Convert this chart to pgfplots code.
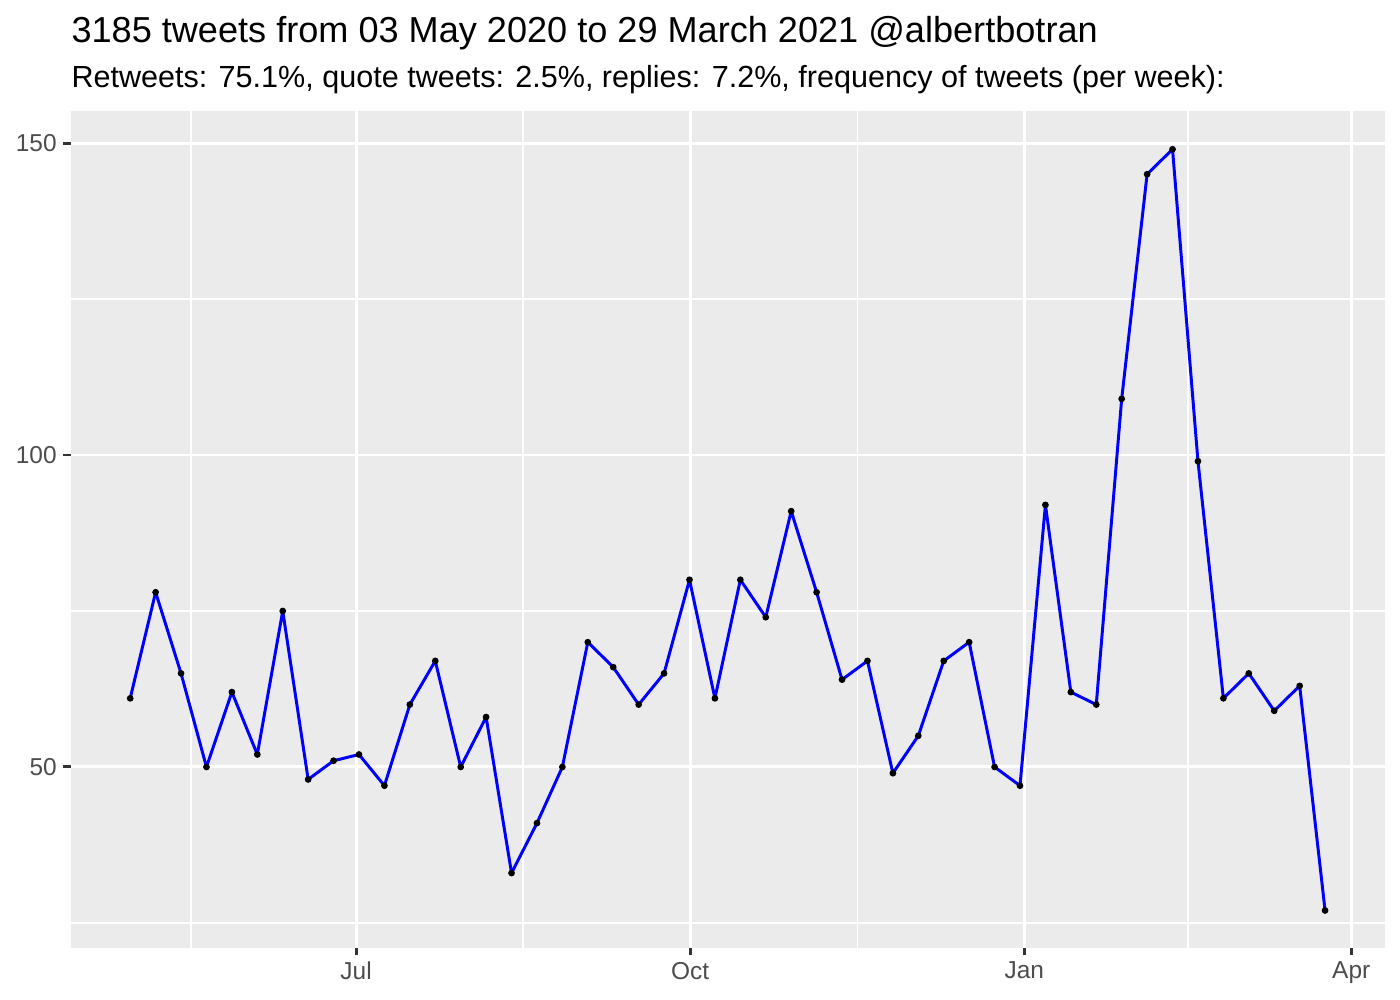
\documentclass[border=0pt]{standalone}
\usepackage{fontspec}
\setmainfont{Liberation Sans}
\usepackage{pgfplots}
\usepackage{pgfplotstable}
\pgfplotsset{compat=1.18}
\definecolor{panelbg}{HTML}{EBEBEB}
\definecolor{gray30}{HTML}{4D4D4D}
\definecolor{gray20}{HTML}{333333}
\pgfplotstableread{
x n
-62.2 61
-55.2 78
-48.2 65
-41.2 50
-34.2 62
-27.2 52
-20.2 75
-13.2 48
-6.2 51
0.8 52
7.8 47
14.8 60
21.8 67
28.8 50
35.8 58
42.8 33
49.8 41
56.8 50
63.8 70
70.8 66
77.8 60
84.8 65
91.8 80
98.8 61
105.8 80
112.8 74
119.8 91
126.8 78
133.8 64
140.8 67
147.8 49
154.8 55
161.8 67
168.8 70
175.8 50
182.8 47
189.8 92
196.8 62
203.8 60
210.8 109
217.8 145
224.8 149
231.8 99
238.8 61
245.8 65
252.8 59
259.8 63
266.8 27
}\weekly
\begin{document}
\begin{tikzpicture}
\path[use as bounding box] (-25.56pt,-18.83pt) rectangle (478.44pt,341.16pt);
\begin{axis}[
  at={(0pt,0pt)}, anchor=south west,
  scale only axis, width=473.04pt, height=301.2pt,
  xmin=-78.5, xmax=283.3, ymin=21.04, ymax=155.13,
  axis background/.style={fill=panelbg},
  axis line style={draw=none},
  xtick={0,92,184,274}, xticklabels={Jul,Oct,Jan,Apr},
  ytick={50,100,150},
  minor xtick={-45.5,46,138,229}, minor ytick={25,75,125},
  grid=both,
  major grid style={white, line width=1.07pt},
  minor grid style={white, line width=0.53pt},
  minor tick length=0pt,
  tick align=outside, major tick length=2.75pt,
  xtick pos=bottom, ytick pos=left,
  tick style={color=gray20, line width=1.07pt},
  ticklabel style={font=\fontsize{8.8pt}{10pt}\selectfont, text=gray30, inner sep=0pt},
  xticklabel style={anchor=north, yshift=-2.2pt},
  yticklabel style={anchor=east, xshift=-2.2pt},
  /pgf/number format/assume math mode=true,
  clip=false,
]
\addplot[only marks, mark=*, mark size=1pt, black] table[x=x, y=n] {\weekly};
\addplot[color=blue, line width=1.07pt, line join=round, line cap=round, mark=none] table[x=x, y=n] {\weekly};
\end{axis}
\node[anchor=base west, inner sep=0pt, font=\fontsize{13pt}{15pt}\selectfont] at (0pt,326.04pt) {3185 tweets from 03 May 2020 to 29 March 2021 @albertbotran};
\node[anchor=base west, inner sep=0pt, font=\fontsize{11pt}{13pt}\selectfont] at (0pt,309.8pt) {Retweets: 75.1\%, quote tweets: 2.5\%, replies: 7.2\%, frequency of tweets (per week):};
\end{tikzpicture}
\end{document}
